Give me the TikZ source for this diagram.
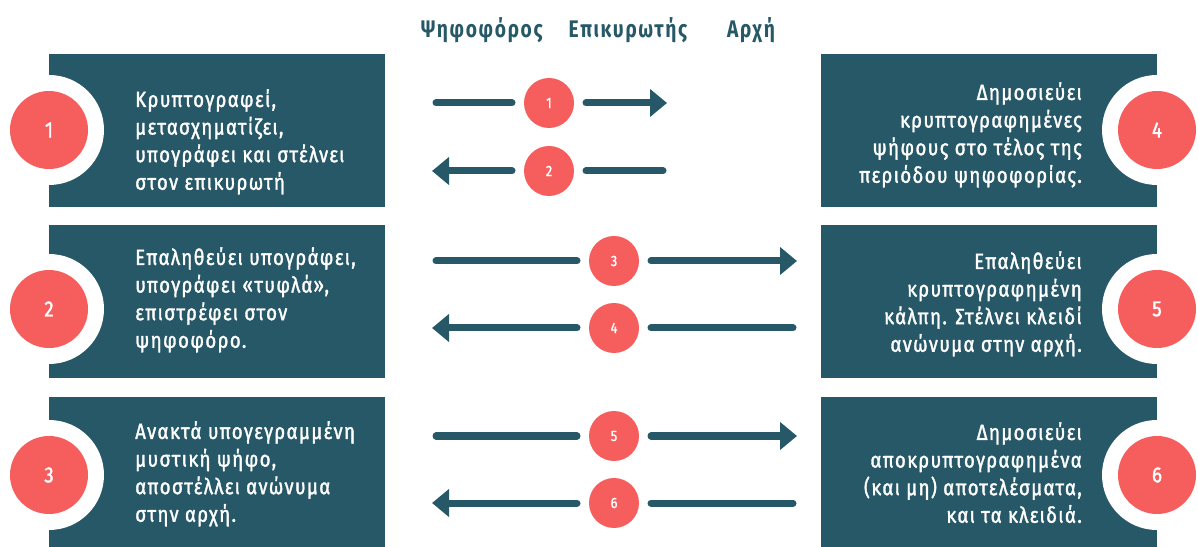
\documentclass[tikz,border=0pt]{standalone}
\usepackage{fontspec}
\setmainfont{Fira Sans}[FakeStretch=0.8, LetterSpace=7]
\newfontfamily\stepfont{Fira Sans}[FakeStretch=0.85, LetterSpace=6, FakeBold=1.5]
\usepackage{xcolor}
\definecolor{primary}{RGB}{38, 88, 104}
\definecolor{accent}{RGB}{246, 94, 94}
\usetikzlibrary{arrows.meta,positioning}

\begin{document}
\begin{tikzpicture}[x=1pt, y=1pt,
  stepbox/.style={fill=primary, minimum width=336pt, minimum height=153pt, inner sep=0pt},
  lefttext/.style={text=white, font=\stepfont\fontsize{22}{27.6}\selectfont, align=left, inner sep=0pt, anchor=north west},
  righttext/.style={text=white, font=\stepfont\fontsize{22}{27.6}\selectfont, align=right, inner sep=0pt, anchor=north east},
  ring/.style={circle, fill=white, minimum size=110pt, inner sep=0pt},
  bignum/.style={circle, fill=accent, text=white, minimum size=78pt, inner sep=0pt, font=\stepfont\fontsize{22}{24}\selectfont},
  msgnum/.style={circle, fill=accent, text=white, minimum size=50pt, inner sep=0pt, outer sep=12pt, font=\stepfont\fontsize{15}{18}\selectfont},
  flow/.style={line width=7pt, color=primary, line cap=round},
  arrow/.style={flow, -{Triangle[length=17pt, width=27pt]}},
  head/.style={text=primary, font=\fontsize{24}{28}\selectfont\bfseries}
]
\useasboundingbox (0,0) rectangle (1198,546);

% headers
\node[head] (voter) at (482, 516) {Ψηφοφόρος};
\node[head] (validator) at (628, 516) {Επικυρωτής};
\node[head] (authority) at (751, 516) {Αρχή};

% left column
\node[stepbox] (b1) at (217, 415.5) {};
\node[stepbox] (b2) at (217, 244) {};
\node[stepbox] (b3) at (217, 72.5) {};
\node[ring] at (49, 416) {};
\node[ring] at (49, 237) {};
\node[ring] at (49, 71) {};
\node[bignum] (s1) at (49, 416) {1};
\node[bignum] (s2) at (49, 237) {2};
\node[bignum] (s3) at (49, 71) {3};
\node[lefttext] (t1) at (135, 457) {Κρυπτογραφεί,\\μετασχηματίζει,\\υπογράφει και στέλνει\\στον επικυρωτή};
\node[lefttext] (t2) at (135, 299) {Επαληθεύει υπογράφει,\\υπογράφει «τυφλά»,\\επιστρέφει στον\\ψηφοφόρο.};
\node[lefttext] (t3) at (135, 125) {Ανακτά υπογεγραμμένη\\μυστική ψήφο,\\αποστέλλει ανώνυμα\\στην αρχή.};

% right column
\node[stepbox] (b4) at (989, 415.5) {};
\node[stepbox] (b5) at (989, 244) {};
\node[stepbox] (b6) at (989, 72.5) {};
\node[ring] at (1157, 416) {};
\node[ring] at (1157, 237) {};
\node[ring] at (1157, 71) {};
\node[bignum] (s4) at (1157, 416) {4};
\node[bignum] (s5) at (1157, 237) {5};
\node[bignum] (s6) at (1157, 71) {6};
\node[righttext] (t4) at (1082, 464) {Δημοσιεύει\\κρυπτογραφημένες\\ψήφους στο τέλος της\\περιόδου ψηφοφορίας.};
\node[righttext] (t5) at (1082, 295) {Επαληθεύει\\κρυπτογραφημένη\\κάλπη. Στέλνει κλειδί\\ανώνυμα στην αρχή.};
\node[righttext] (t6) at (1082, 124) {Δημοσιεύει\\αποκρυπτογραφημένα\\(και μη) αποτελέσματα,\\και τα κλειδιά.};

% messages
\node[msgnum] (m1) at (549, 443) {1};
\node[msgnum] (m2) at (549, 375) {2};
\node[msgnum] (m3) at (614, 285) {3};
\node[msgnum] (m4) at (614, 218) {4};
\node[msgnum] (m5) at (614, 110) {5};
\node[msgnum] (m6) at (614, 43) {6};

\coordinate (a1) at (436, 443);  \coordinate (e1) at (667, 443);
\coordinate (a2) at (432, 375);  \coordinate (e2) at (663, 375);
\coordinate (a3) at (436, 285);  \coordinate (e3) at (797, 285);
\coordinate (a4) at (432, 218);  \coordinate (e4) at (793, 218);
\coordinate (a5) at (436, 110);  \coordinate (e5) at (797, 110);
\coordinate (a6) at (432, 43);   \coordinate (e6) at (793, 43);

\draw[flow] (a1) -- (m1);
\draw[arrow] (m1) -- (e1);
\draw[flow] (e2) -- (m2);
\draw[arrow] (m2) -- (a2);
\draw[flow] (a3) -- (m3);
\draw[arrow] (m3) -- (e3);
\draw[flow] (e4) -- (m4);
\draw[arrow] (m4) -- (a4);
\draw[flow] (a5) -- (m5);
\draw[arrow] (m5) -- (e5);
\draw[flow] (e6) -- (m6);
\draw[arrow] (m6) -- (a6);
\end{tikzpicture}
\end{document}
